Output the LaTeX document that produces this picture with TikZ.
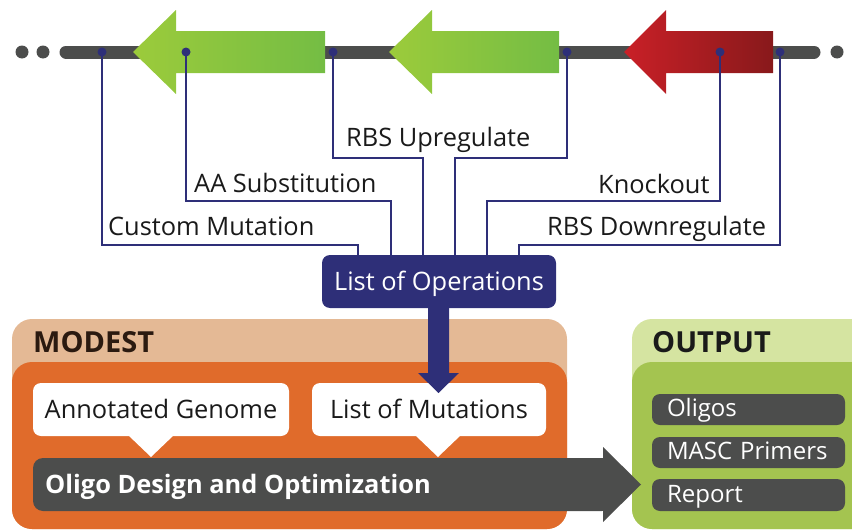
\documentclass[tikz,border=0pt]{standalone}
\usepackage{fontspec}
\setmainfont{Open Sans}
\usetikzlibrary{calc}
\definecolor{navy}{HTML}{2E2F78}
\definecolor{dgray}{HTML}{4C4D4C}
\definecolor{lgreen}{HTML}{9CCB3B}
\definecolor{mgreen}{HTML}{74BD44}
\definecolor{redL}{HTML}{C92027}
\definecolor{redR}{HTML}{88191B}
\definecolor{tanc}{HTML}{E4B995}
\definecolor{orng}{HTML}{E06B2B}
\definecolor{palegreen}{HTML}{D5E4A1}
\definecolor{olive}{HTML}{A4C450}
\definecolor{modtext}{HTML}{2B1A10}
\definecolor{txt}{HTML}{1A1A1A}
\tikzset{
  dotnode/.style={circle, fill=navy, inner sep=0pt, minimum size=9pt},
  graydot/.style={circle, fill=dgray, inner sep=0pt, minimum size=13pt},
  conn/.style={draw=navy, line width=2pt},
  lbl/.style={anchor=base west, inner sep=0pt, text=txt, font=\fontsize{25.4}{30}\selectfont},
  hdr/.style={anchor=base west, inner sep=0pt, font=\bfseries\fontsize{29}{33}\selectfont},
  wbox/.style={rectangle, rounded corners=8pt, fill=white, text=txt, inner sep=0pt,
    minimum width=#1, minimum height=53pt, text height=18pt, text depth=0pt,
    font=\fontsize{25.4}{30}\selectfont},
  obox/.style={rectangle, rounded corners=8pt, fill=dgray, text=white, inner ysep=0pt, inner xsep=15pt,
    text width=163pt, align=left, minimum height=#1, text height=17pt, text depth=3pt,
    font=\fontsize{24}{28}\selectfont},
}
\begin{document}
\begin{tikzpicture}[x=1pt,y=-1pt]
\useasboundingbox (0,0) rectangle (852,530);
% chromosome line
\draw[dgray, line width=13pt, line cap=round] (66,52) -- (814,52);
\node[graydot] (g1) at (22,52) {};
\node[graydot] (g2) at (43,52) {};
\node[graydot] (g3) at (837,52) {};
% genes
\shade[left color=lgreen, right color=mgreen] (133,52) -- (176,10) -- (176,31) -- (325,31) -- (325,73) -- (176,73) -- (176,94) -- cycle;
\shade[left color=lgreen, right color=mgreen] (389,52) -- (432,10) -- (432,31) -- (559,31) -- (559,73) -- (432,73) -- (432,94) -- cycle;
\shade[left color=redL, right color=redR] (624,52) -- (666,10) -- (666,31) -- (773,31) -- (773,73) -- (666,73) -- (666,94) -- cycle;
% MODEST panel
\fill[tanc, rounded corners=20pt] (12,319) rectangle (567,529);
\fill[orng, rounded corners=20pt] (12,362) rectangle (567,529);
\node[hdr, text=modtext] (modest) at (33,352) {MODEST};
% OUTPUT panel
\fill[palegreen, rounded corners=20pt] (632,319) rectangle (890,529);
\fill[olive, rounded corners=20pt] (632,362) rectangle (890,529);
\node[hdr, text=txt] (output) at (652,352) {OUTPUT};
% white boxes with pointers
\fill[white] (128,435) -- (151,457) -- (174,435) -- cycle;
\fill[white] (415,435) -- (438,457) -- (461,435) -- cycle;
\node[wbox=256pt] (ag) at (161,409.5) {Annotated Genome};
\node[wbox=234pt] (lm) at (429,409.5) {List of Mutations};
% big gray arrow
\fill[dgray, rounded corners=10pt] (33,458) rectangle (612,511);
\fill[dgray] (603,447) -- (641,484.5) -- (603,522) -- cycle;
\node[anchor=base west, inner sep=0pt, text=white, font=\bfseries\fontsize{25.4}{30}\selectfont] (odo) at (45,493) {Oligo Design and Optimization};
% outputs
\node[obox=31pt] (oligos) at (748.5,409.5) {Oligos};
\node[obox=31pt] (masc) at (748.5,452.5) {MASC Primers};
\node[obox=32pt] (report) at (748.5,495) {Report};
% list of operations
\node[wbox=234pt, fill=navy, text=white] (ops) at (439,281.5) {List of Operations};
% thick navy arrow
\fill[navy] (428,308) -- (428,373) -- (418,373) -- (438.5,393) -- (459,373) -- (449,373) -- (449,308) -- cycle;
% site dots
\node[dotnode] (d1) at (102,52) {};
\node[dotnode] (d2) at (186,52) {};
\node[dotnode] (d3) at (333,52) {};
\node[dotnode] (d4) at (567,52) {};
\node[dotnode] (d5) at (720,52) {};
\node[dotnode] (d6) at (780,52) {};
% connectors
\draw[conn] (d1.center) |- ($(ops.north west)+(36,-10)$) -- ($(ops.north west)+(36,0)$);
\draw[conn] (d2.center) |- ($(ops.north west)+(69,-54)$) -- ($(ops.north west)+(69,0)$);
\draw[conn] (d3.center) |- ($(ops.north west)+(101,-97)$) -- ($(ops.north west)+(101,0)$);
\draw[conn] (d4.center) |- ($(ops.north west)+(133,-97)$) -- ($(ops.north west)+(133,0)$);
\draw[conn] (d5.center) |- ($(ops.north west)+(165,-54)$) -- ($(ops.north west)+(165,0)$);
\draw[conn] (d6.center) |- ($(ops.north west)+(197,-10)$) -- ($(ops.north west)+(197,0)$);
% labels
\node[lbl] (lcm) at (108,235) {Custom Mutation};
\node[lbl] (laa) at (194,192) {AA Substitution};
\node[lbl] (lru) at (346,146) {RBS Upregulate};
\node[lbl] (lko) at (598,193) {Knockout};
\node[lbl] (lrd) at (547,235) {RBS Downregulate};
\end{tikzpicture}
\end{document}
